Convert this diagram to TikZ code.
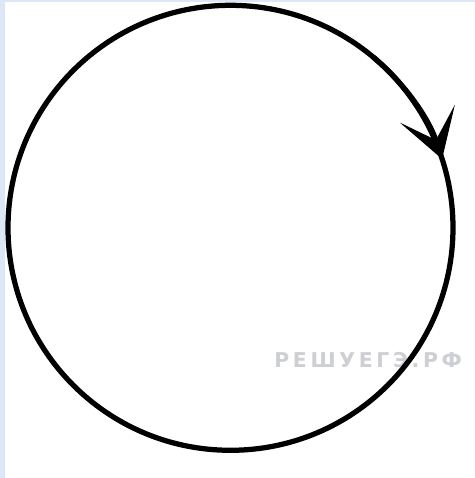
\documentclass[tikz,border=0pt]{standalone}
\usepackage{fontspec}
\usepackage{tikz}
\usetikzlibrary{arrows.meta}
\newfontfamily\wmfont[LetterSpace=18]{DejaVu Sans Bold}
\definecolor{EdgeBlue}{RGB}{220,230,245}
\definecolor{WaterGray}{RGB}{206,207,212}

\begin{document}
\begin{tikzpicture}[
x=0.02cm, y=-0.02cm,
ring/.style={line width=0.105cm, draw=black},
tipline/.style={line width=0.105cm, draw=black, -{Stealth[length=0.95cm, width=1.15cm, inset=0.55cm]}},
watermark/.style={font=\wmfont\fontsize{11.6pt}{13pt}\selectfont, text=WaterGray, inner sep=0pt}
]
\useasboundingbox (0,0) rectangle (475,478);
% frame strips
\fill[EdgeBlue] (0,0) rectangle (475,478);
\fill[white] (5,2) rectangle (475,478);

\coordinate (ctr) at (230.5,227.8);

\node[watermark, anchor=west] (wm) at (274,360) {РЕШУЕГЭ.РФ};

\draw[ring] (ctr) circle[radius=222.5];
\draw[tipline] ([shift={(-50:222.5)}]ctr) arc[start angle=-50, end angle=-18.0, radius=222.5];
\end{tikzpicture}
\end{document}
